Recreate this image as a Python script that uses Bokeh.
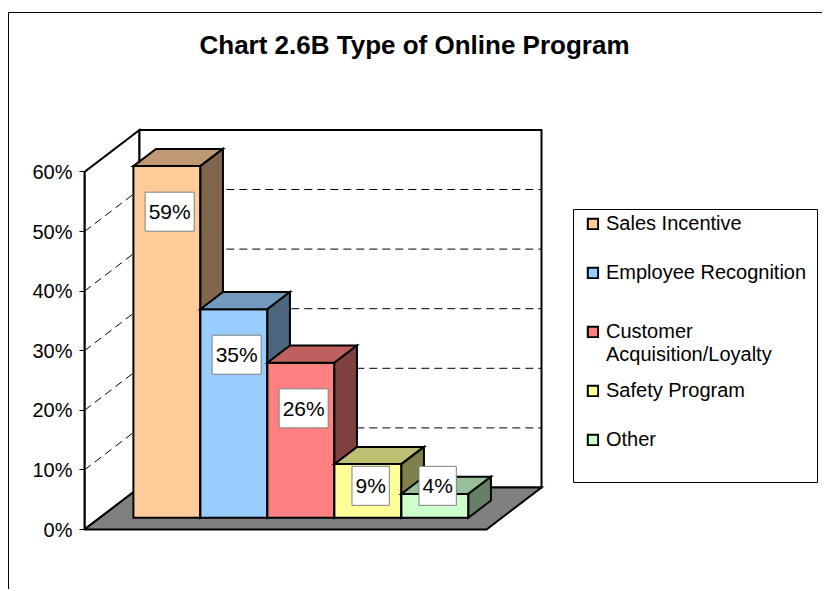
from bokeh.plotting import figure
from bokeh.models import (ColumnDataSource, LinearAxis, FixedTicker, NumeralTickFormatter,
                          Legend, LegendItem, Range1d, BoxAnnotation)
from bokeh.core.properties import value
from bokeh.embed import file_html
from bokeh.resources import INLINE

# ---------------- data ----------------
title_text = "Chart 2.6B Type of Online Program"
categories = ["Sales Incentive", "Employee Recognition", "Customer Acquisition/Loyalty",
              "Safety Program", "Other"]
legend_labels = ["Sales Incentive", "Employee Recognition", "\nCustomer\nAcquisition/Loyalty",
                 "Safety Program", "Other"]
values_pct = [59, 35, 26, 9, 4]
axis_ticks_pct = [0, 10, 20, 30, 40, 50, 60]
grid_pct = [10, 20, 30, 40, 50]

# ---------------- style ----------------
bar_colors = ["#FFCC99", "#99CCFF", "#FF8080", "#FFFF99", "#CCFFCC"]
FONT = "Liberation Sans"

def shade(hex_color, f):
    h = hex_color.lstrip("#")
    r, g, b = (int(h[k:k + 2], 16) for k in (0, 2, 4))
    return "#%02X%02X%02X" % (round(r * f), round(g * f), round(b * f))

# ---------------- geometry (screen px) ----------------
W, H = 814, 577
PAGE_X0, PAGE_Y0 = 10, 13         # canvas origin on the page
AXIS_X, ZERO_Y = 85, 529          # front-left corner of the floor (page px)
PX_PER_CAT = 67                   # px per category slot
PX_PER_UNIT = 596                 # px per 100 %
DEPTH_DX, DEPTH_DY = 55, 42       # full depth offset (px)
TOP_BORDER = 51
BAR_D0, BAR_D1 = 0.28, 0.69       # bar depth span (0=front, 1=back wall)
LABEL_D = 0.33
LEG_BOX = (574, 818, 209, 482)    # legend frame: left, right, top, bottom (page px)
LEG_ROW = 49                      # legend row height (px)
LEG_LAST_Y = 439                  # centre of last legend row (page px)

ddx = DEPTH_DX / PX_PER_CAT
ddy = DEPTH_DY / PX_PER_UNIT

def proj(c, v, d):
    return c + d * ddx, v + d * ddy

def poly(pts):
    xs, ys = zip(*(proj(*pt) for pt in pts))
    return list(xs), list(ys)

def page_to_data(px, py):
    return (px - AXIS_X) / PX_PER_CAT, (ZERO_Y - py) / PX_PER_UNIT

n = len(categories)
floor_w = n + 1
vmax = axis_ticks_pct[-1] / 100

x_range = Range1d(0, (PAGE_X0 + W - AXIS_X) / PX_PER_CAT)
y_range = Range1d((ZERO_Y - (PAGE_Y0 + H)) / PX_PER_UNIT,
                  (ZERO_Y - (PAGE_Y0 + TOP_BORDER)) / PX_PER_UNIT)

p = figure(width=W, height=H, x_range=x_range, y_range=y_range,
           toolbar_location=None, output_backend="svg",
           x_axis_type=None, y_axis_type=None,
           min_border_left=AXIS_X - PAGE_X0, min_border_right=0,
           min_border_bottom=0, min_border_top=TOP_BORDER)
p.outline_line_color = None
p.background_fill_color = "white"
p.border_fill_color = "white"
p.styles = {"border-left": "1px solid black", "border-top": "1px solid black",
            "margin-top": "12px", "margin-left": "8px"}

p.title.text = title_text
p.title.text_font = FONT
p.title.text_font_size = "26px"
p.title.text_font_style = "bold"
p.title.text_color = "black"
p.title.align = "left"
p.title.offset = 115

# ---------------- y axis ----------------
yaxis = LinearAxis(ticker=FixedTicker(ticks=[t / 100 for t in axis_ticks_pct]),
                   formatter=NumeralTickFormatter(format="0%"),
                   bounds=(0, vmax))
yaxis.axis_line_width = 2
yaxis.axis_line_color = "black"
yaxis.major_tick_in = 0
yaxis.major_tick_out = 5
yaxis.major_tick_line_color = "black"
yaxis.minor_tick_in = 0
yaxis.minor_tick_out = 0
yaxis.major_label_text_font = FONT
yaxis.major_label_text_font_size = "20px"
yaxis.major_label_text_color = "black"
yaxis.major_label_standoff = 7
p.add_layout(yaxis, "left")

# ---------------- walls ----------------
walls_x, walls_y = [], []
for pts in ([(0, 0, 0), (0, vmax, 0), (0, vmax, 1), (0, 0, 1)],
            [(0, 0, 1), (floor_w, 0, 1), (floor_w, vmax, 1), (0, vmax, 1)]):
    xs, ys = poly(pts)
    walls_x.append(xs)
    walls_y.append(ys)
p.patches(walls_x, walls_y, fill_color="white", line_color="black", line_width=2,
          line_join="miter")

gx, gy = [], []
for g in grid_pct:
    v = g / 100
    xs, ys = poly([(0, v, 0), (0, v, 1), (floor_w, v, 1)])
    gx.append(xs)
    gy.append(ys)
p.multi_line(gx, gy, line_color="black", line_width=1, line_dash="8 5")

fx, fy = poly([(0, 0, 0), (floor_w, 0, 0), (floor_w, 0, 1), (0, 0, 1)])
p.patch(fx, fy, fill_color="#808080", line_color="black", line_width=2, line_join="miter")

# ---------------- bars ----------------
face_xs, face_ys, face_cols = [], [], []
for i, (val, col) in enumerate(zip(values_pct, bar_colors)):
    v = val / 100
    c0, c1 = i + 0.5, i + 1.5
    faces = [
        ([(c0, 0, BAR_D0), (c1, 0, BAR_D0), (c1, v, BAR_D0), (c0, v, BAR_D0)], col),
        ([(c0, v, BAR_D0), (c1, v, BAR_D0), (c1, v, BAR_D1), (c0, v, BAR_D1)], shade(col, 0.75)),
        ([(c1, 0, BAR_D0), (c1, 0, BAR_D1), (c1, v, BAR_D1), (c1, v, BAR_D0)], shade(col, 0.5)),
    ]
    for pts, fc in faces:
        xs, ys = poly(pts)
        face_xs.append(xs)
        face_ys.append(ys)
        face_cols.append(fc)

bar_src = ColumnDataSource(dict(xs=face_xs, ys=face_ys, fill=face_cols))
bars_r = p.patches("xs", "ys", source=bar_src, fill_color="fill", line_color="black",
                   line_width=2, line_join="miter")

# ---------------- value labels ----------------
LABEL_FS = 21
lx, ly, lt, lw = [], [], [], []
for i, val in enumerate(values_pct):
    v = val / 100
    x, y = proj(i + 1.0, max(v - 0.08, 0.05), LABEL_D)
    txt = f"{val}%"
    lx.append(x)
    ly.append(y)
    lt.append(txt)
    lw.append(7 + LABEL_FS * (0.556 * (len(txt) - 1) + 0.889))
lab_src = ColumnDataSource(dict(x=lx, y=ly, t=lt, w=lw))
p.rect("x", "y", width="w", height=39, width_units="screen", height_units="screen",
       source=lab_src, fill_color="white", line_color="#808080", line_width=1)
p.text("x", "y", text="t", source=lab_src, text_align="center", text_baseline="middle",
       text_font=value(FONT), text_font_size=f"{LABEL_FS}px", text_color="black")

# ---------------- legend ----------------
bl, bb = page_to_data(LEG_BOX[0], LEG_BOX[3])
br, bt = page_to_data(LEG_BOX[1], LEG_BOX[2])
p.add_layout(BoxAnnotation(left=bl, right=br, bottom=bb, top=bt,
                           fill_color="white", fill_alpha=1,
                           line_color="black", line_width=1, line_alpha=1))

LEG_PAD = 11
items = [LegendItem(label=legend_labels[i], renderers=[bars_r], index=3 * i)
         for i in range(n)]
legend = Legend(items=items,
                location=(LEG_BOX[0] + 2 - AXIS_X,
                          PAGE_Y0 + H - (LEG_LAST_Y + LEG_ROW / 2 + LEG_PAD)))
legend.label_text_font = FONT
legend.label_text_font_size = "20px"
legend.label_text_color = "black"
legend.glyph_width = 13
legend.glyph_height = 13
legend.label_standoff = 7
legend.padding = LEG_PAD
legend.spacing = 0
legend.label_height = LEG_ROW
legend.margin = 0
legend.border_line_alpha = 0
legend.background_fill_alpha = 0
p.add_layout(legend)

open("out.html", "w").write(file_html(p, INLINE))
